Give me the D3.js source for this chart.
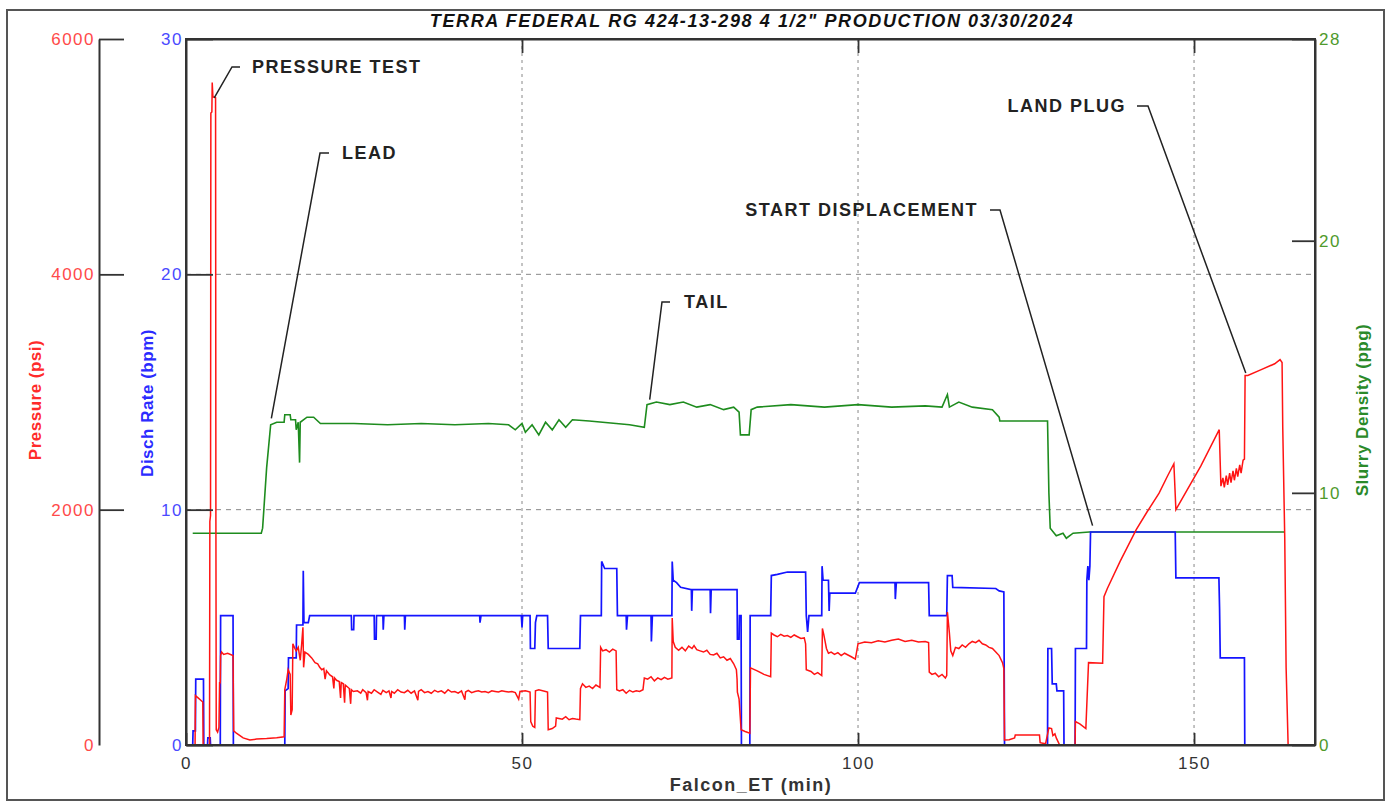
<!DOCTYPE html>
<html>
<head>
<meta charset="utf-8">
<script src="https://cdn.jsdelivr.net/npm/d3@7"></script>
<style>
  body { margin: 0; background: #fff; }
  svg { display: block; font-family: "Liberation Sans", Arial, sans-serif; }
</style>
</head>
<body>
<svg id="chart" width="1390" height="803"></svg>
<script>
// ---------------- data ----------------
var title = 'TERRA FEDERAL RG 424-13-298 4 1/2" PRODUCTION 03/30/2024';

// slurry density, [min, ppg]
var density = [
  [1.0,8.4],[11.2,8.4],[11.4,8.6],[12.0,11.0],[12.6,12.7],[13.5,12.8],[14.6,12.8],[14.7,13.1],[15.5,13.1],
  [15.6,12.9],[16.3,12.9],[16.4,12.5],[16.7,12.8],[16.9,11.2],[17.0,12.8],[18.0,13.0],[19.0,13.0],[20,12.75],
  [25,12.75],[30,12.7],[35,12.75],[40,12.7],[45,12.75],[48,12.7],[49,12.5],[50,12.75],[50.5,12.4],[51.5,12.7],
  [52.5,12.3],[53.5,12.8],[54.5,12.5],[55.5,12.9],[56.5,12.6],[57.5,12.9],[60,12.85],[62,12.8],[64,12.75],
  [66,12.7],[68.2,12.6],[68.6,13.5],[70,13.6],[72,13.5],[74,13.6],[76,13.4],[78,13.5],[80,13.3],[81.5,13.4],
  [82.3,13.2],[82.5,12.3],[83.8,12.3],[84.1,13.3],[85,13.4],[90,13.5],[95,13.4],[100,13.5],[105,13.4],
  [110,13.45],[112.5,13.4],[113.3,13.9],[113.6,13.4],[115,13.6],[117,13.4],[120,13.3],[121,13.0],[121.1,12.85],
  [128.2,12.85],[128.4,10.0],[128.6,8.6],[129.5,8.3],[130.5,8.4],[131,8.2],[132,8.4],[134.4,8.45],[163.4,8.45]
];

// discharge rate, [min, bpm]
var rate = [
  [0,0],[1.0,0],[1.05,0.6],[1.4,0.6],[1.45,2.8],[2.6,2.8],[2.65,0],[3.2,0],[3.25,0.3],[3.6,0.3],[3.65,0],
  [5.1,0],[5.15,5.5],[7.0,5.5],[7.05,0],[14.7,0],[14.75,2.3],[15.2,2.4],[15.25,3.7],[16.4,3.7],[16.45,5.1],
  [17.4,5.1],[17.45,7.4],[17.55,5.2],[18.2,5.2],[18.4,5.5],[24.6,5.5],[24.65,4.9],[24.95,4.9],[25.0,5.5],
  [28.0,5.5],[28.05,4.5],[28.3,4.5],[28.35,5.5],[29.3,5.5],[29.35,4.9],[29.45,5.5],[32.5,5.5],[32.55,4.9],
  [32.65,5.5],[43.7,5.5],[43.75,5.2],[43.9,5.5],[49.9,5.5],[50.0,5.0],[50.1,5.5],[51.2,5.5],[51.25,4.1],
  [51.9,4.1],[52.0,5.2],[52.2,5.5],[53.8,5.5],[53.9,4.1],[58.6,4.1],[58.7,5.5],[61.8,5.5],[61.85,7.8],
  [62.3,7.5],[64.1,7.5],[64.2,5.5],[65.5,5.5],[65.55,4.9],[65.7,5.5],[69.2,5.5],[69.25,4.4],[69.4,5.5],
  [72.3,5.5],[72.35,7.8],[72.5,7.0],[73.0,6.9],[73.6,6.7],[75.2,6.6],[75.25,5.7],[75.35,6.6],[78.0,6.6],
  [78.05,5.6],[78.15,6.6],[82.0,6.6],[82.05,4.5],[82.3,4.5],[82.35,5.5],[82.6,5.5],[82.65,0],[83.9,0],
  [83.95,5.5],[87.0,5.5],[87.1,7.2],[88,7.25],[89.5,7.35],[92.2,7.35],[92.3,5.5],[92.5,4.8],[92.7,5.5],
  [94.6,5.5],[94.65,7.6],[94.8,7.0],[95.6,7.0],[95.7,5.7],[95.8,6.45],[99.6,6.45],[100.2,6.9],[105.5,6.9],
  [105.55,6.2],[105.7,6.9],[110.5,6.9],[110.6,5.5],[113.2,5.5],[113.3,7.2],[114.0,7.2],[114.1,6.7],
  [120.5,6.65],[121.0,6.55],[121.7,6.5],[121.8,0],[128.2,0],[128.25,4.1],[128.8,4.1],[128.9,2.6],[129.5,2.6],
  [129.6,2.3],[130.6,2.3],[130.65,0],[132.3,0],[132.35,4.1],[134.0,4.1],[134.05,7.0],[134.2,7.6],[134.35,7.0],
  [134.5,7.6],[134.6,9.05],[147.2,9.05],[147.3,7.1],[153.7,7.1],[153.8,5.8],[153.9,3.7],[157.5,3.7],[157.55,0]
];

// treating pressure, [min, psi]
var pressure = [
  [1.0,0],[1.35,0],[1.4,420],[1.8,400],[2.2,380],[2.5,365],[2.55,0],[3.5,0],[3.55,1900],[3.65,1950],
  [3.7,5370],[3.85,5380],[3.9,5630],[4.0,5510],[4.4,5500],[4.45,1900],[4.5,130],[4.7,110],[4.9,150],
  [5.0,530],[5.1,530],[5.15,760],[5.3,790],[5.6,770],[6.2,780],[7.0,760],[7.1,120],[7.5,100],[8.5,60],
  [9.5,42],[10.5,50],[12.0,55],[13.5,62],[14.6,70],
  [14.7,470],[15.0,560],[15.2,640],[15.5,600],[15.6,255],[15.8,300],[15.9,860],[16.2,820],[16.4,800],
  [16.7,830],[17.0,720],[17.2,850],[17.4,1000],[17.5,660],[17.7,790],[18.2,770],[18.7,740],[19.2,700],
  [19.6,690],[19.9,660],[20.2,640],[20.5,650],[20.7,560],[20.9,630],[21.4,595],[21.8,580],[22.0,480],
  [22.1,570],[22.4,550],[22.8,540],[23.0,400],[23.1,530],[23.4,520],[23.6,360],[23.7,510],[24.0,495],
  [24.3,480],[24.5,350],[24.6,470],[24.9,455],[25.5,460],[26.0,440],[26.3,470],[26.8,445],[27.0,380],
  [27.1,455],[27.6,440],[28.0,470],[28.5,450],[29.0,430],[29.3,465],[29.8,445],[30.2,460],[30.5,400],
  [30.6,455],[31.0,440],[31.5,470],[32.0,450],[32.5,445],[33.0,465],[33.5,440],[34.0,460],[34.5,380],
  [34.6,455],[35.0,470],[35.5,445],[36.0,455],[36.5,440],[37.0,465],[37.5,450],[38.0,460],[38.5,440],
  [39.0,470],[39.5,450],[40.0,455],[40.5,440],[41.0,460],[41.5,385],[41.6,450],[42.0,465],[42.5,445],
  [43.0,455],[43.5,460],[44.0,450],[44.5,455],[45.0,445],[45.5,460],[46.0,455],[46.5,450],[47.0,460],
  [47.5,455],[48.0,450],[48.5,455],[49.0,445],[49.5,390],[49.7,455],[50.5,460],[51.2,450],[51.3,200],
  [51.6,160],[51.9,150],[52.0,460],[52.5,470],[53.5,455],[53.8,450],[53.9,130],[54.5,140],[55.0,160],
  [55.1,230],[56.0,220],[56.5,240],[57.0,215],[57.5,225],[58.0,220],[58.6,215],[58.7,480],[59.0,520],
  [59.5,490],[60.0,500],[60.5,480],[61.0,510],[61.6,490],[61.7,830],[62.0,800],[62.5,810],[63.0,790],
  [63.5,815],[64.0,800],[64.1,470],[64.5,460],[65.0,470],[65.5,440],[66.0,465],[66.5,450],[67.0,460],
  [67.5,455],[68.0,470],[68.2,570],[68.7,560],[69.2,580],[69.7,545],[70.2,570],[70.7,555],[71.2,575],
  [71.7,560],[72.3,570],[72.35,1080],[72.5,880],[72.8,830],[73.3,805],[73.8,830],[74.3,800],[74.8,840],
  [75.3,820],[75.6,845],[76.0,810],[76.5,800],[77.0,790],[77.5,805],[78.0,770],[78.5,765],[79.0,780],
  [79.5,740],[80.0,750],[80.5,720],[81.0,735],[81.5,690],[81.9,640],[82.0,560],[82.05,450],[82.3,390],
  [82.6,130],[83.2,115],[83.9,100],[84.0,655],[85.0,630],[86.0,600],[87.0,580],[87.1,950],[87.5,935],
  [88.0,920],[88.5,940],[89.0,925],[89.5,930],[90.0,915],[90.5,935],[91.0,920],[91.5,905],[92.0,910],
  [92.2,860],[92.3,640],[93.0,625],[93.5,600],[94.0,615],[94.6,590],[94.7,990],[94.9,940],[95.3,820],
  [95.6,780],[96.0,790],[96.5,770],[97.0,785],[97.5,760],[98.0,780],[98.5,765],[99.0,750],[99.6,730],
  [100.0,860],[101.0,875],[102.0,870],[103.0,885],[104.0,875],[105.0,890],[106.0,900],[107.0,880],
  [108.0,890],[109.0,875],[110.0,880],[110.5,870],[110.6,620],[111.0,600],[111.5,610],[112.0,580],
  [112.5,600],[113.0,570],[113.2,590],[113.3,1130],[113.6,950],[113.8,800],[114.1,760],[114.5,830],
  [115.0,820],[115.5,850],[116.0,830],[116.5,860],[117.0,880],[117.5,870],[118.0,890],[118.5,860],
  [119.0,850],[119.5,830],[120.0,820],[120.5,790],[121.0,760],[121.5,700],[121.7,650],[121.8,42],
  [122.5,45],[123.3,60],[123.4,85],[125.0,85],[127.0,85],[127.1,20],[127.9,10],[128.4,145],[128.8,140],
  [129.0,80],[129.3,95],[129.5,60],[130.0,0],[132.3,0],[132.35,200],[133.0,180],[133.9,140],[134.3,700],
  [136.4,695],[136.6,1260],[137.1,1330],[139.0,1560],[141.4,1830],[143.0,1980],[144.8,2140],[146.0,2280],
  [147.0,2390],[147.3,2000],[149.0,2170],[151.0,2370],[153.75,2680],[154.0,2200],[154.3,2270],[154.5,2190],
  [154.8,2290],[155.0,2210],[155.3,2310],[155.5,2230],[155.8,2330],[156.0,2250],[156.3,2350],[156.5,2280],
  [156.8,2380],[157.0,2310],[157.3,2420],[157.5,2430],[157.6,3140],[158.0,3140],[160.0,3190],[162.0,3240],
  [162.8,3275],[163.1,3250],[163.2,2700],[163.5,1750],[163.7,660],[164.0,0]
];

// event markers: label, time (min), value on its own axis
var notes     = ["PRESSURE TEST", "LEAD", "TAIL", "START DISPLACEMENT", "LAND PLUG"];
var noteTime  = [4.2, 12.7, 69.0, 134.9, 157.7];
var noteValue = [5500, 12.95, 13.7, 8.7, 3161];
var noteAxis  = ["p", "d", "d", "d", "p"];

var timeTicks = [0, 50, 100, 150];
var pressureTicks = [0, 2000, 4000, 6000];
var rateTicks = [0, 10, 20, 30];
var densityTicks = [0, 10, 20, 28];

// ---------------- layout ----------------
var W = 1390, H = 803;
var margin = {top: 39, right: 75, bottom: 58, left: 186};
var pAxisX = 99;

var svg = d3.select("#chart");

var x = d3.scaleLinear().domain([0, 168]).range([margin.left, W - margin.right]);
var yP = d3.scaleLinear().domain([0, 6000]).range([H - margin.bottom, margin.top]);
var yR = d3.scaleLinear().domain([0, 30]).range([H - margin.bottom, margin.top]);
var yD = d3.scaleLinear().domain([0, 28]).range([H - margin.bottom, margin.top]);

// outer frame
svg.append("rect")
  .attr("x", 7).attr("y", 10).attr("width", 1377).attr("height", 790)
  .attr("fill", "none").attr("stroke", "#555").attr("stroke-width", 2);

// title
svg.append("text")
  .attr("x", 752).attr("y", 21).attr("dy", "0.35em")
  .attr("text-anchor", "middle")
  .style("font-size", "18px").style("font-weight", "bold").style("font-style", "italic")
  .style("letter-spacing", "1.6px").attr("fill", "#111")
  .text(title);

// grid
svg.append("g").selectAll("line")
  .data([10, 20]).enter().append("line")
  .attr("x1", x(0)).attr("x2", x(168))
  .attr("y1", function(d){ return yR(d); }).attr("y2", function(d){ return yR(d); })
  .attr("stroke", "#888").attr("stroke-width", 1).attr("stroke-dasharray", "5,5");
svg.append("g").selectAll("line")
  .data([50, 100, 150]).enter().append("line")
  .attr("x1", function(d){ return x(d); }).attr("x2", function(d){ return x(d); })
  .attr("y1", yR(30)).attr("y2", yR(0))
  .attr("stroke", "#888").attr("stroke-width", 1).attr("stroke-dasharray", "3,4");

// ---------------- series ----------------
var lineD = d3.line().x(function(d){ return x(d[0]); }).y(function(d){ return yD(d[1]); });
var lineR = d3.line().x(function(d){ return x(d[0]); }).y(function(d){ return yR(d[1]); });
var lineP = d3.line().x(function(d){ return x(d[0]); }).y(function(d){ return yP(d[1]); });

svg.append("path").datum(density).attr("d", lineD)
  .attr("fill", "none").attr("stroke", "#1e8c1e").attr("stroke-width", 1.6);
svg.append("path").datum(rate).attr("d", lineR)
  .attr("fill", "none").attr("stroke", "#1414ff").attr("stroke-width", 1.7);
svg.append("path").datum(pressure).attr("d", lineP)
  .attr("fill", "none").attr("stroke", "#ff1414").attr("stroke-width", 1.5);

// ---------------- axes ----------------
function styleAxis(g, color) {
  g.select(".domain").attr("stroke", "#333").attr("stroke-width", 2);
  g.selectAll(".tick line").attr("stroke", "#333").attr("stroke-width", 1.8);
  g.selectAll(".tick text")
    .attr("fill", color)
    .style("font-size", "17px").style("letter-spacing", "1.5px")
    .style("font-family", "'Liberation Sans', Arial, sans-serif");
}
function except(arr, skip) {
  return arr.filter(function(v){ return skip.indexOf(v) < 0; });
}

// plot frame
svg.append("rect")
  .attr("x", x(0)).attr("y", yR(30))
  .attr("width", x(168) - x(0)).attr("height", yR(0) - yR(30))
  .attr("fill", "none").attr("stroke", "#333").attr("stroke-width", 2);

// pressure (far left)
var gP = svg.append("g").attr("transform", "translate(" + pAxisX + ",0)");
gP.call(d3.axisLeft(yP).tickValues(except(d3.range(500, 6000, 500), pressureTicks))
  .tickSize(-12).tickSizeOuter(0).tickFormat(""));
gP.call(d3.axisLeft(yP).tickValues(pressureTicks).tickSize(-25).tickSizeOuter(0)
  .tickPadding(4).tickFormat(d3.format("d")));
styleAxis(gP, "#ff4a4a");
gP.selectAll(".tick").filter(function(d){ return d === 0; }).select("line").remove();

// rate (plot left)
var gR = svg.append("g").attr("transform", "translate(" + x(0) + ",0)");
gR.call(d3.axisLeft(yR).tickValues(except(d3.range(2, 30, 2), rateTicks))
  .tickSize(-13).tickSizeOuter(0).tickFormat(""));
gR.call(d3.axisLeft(yR).tickValues(rateTicks).tickSize(-27).tickSizeOuter(0).tickPadding(3));
styleAxis(gR, "#4a4aff");

// density (right)
var gD = svg.append("g").attr("transform", "translate(" + x(168) + ",0)");
gD.call(d3.axisRight(yD).tickValues(except(d3.range(2, 28, 2), densityTicks))
  .tickSize(-11).tickSizeOuter(0).tickFormat(""));
gD.call(d3.axisRight(yD).tickValues(densityTicks).tickSize(-23).tickSizeOuter(0).tickPadding(4));
styleAxis(gD, "#4f9a2c");

// time, bottom and top
var gX = svg.append("g").attr("transform", "translate(0," + yR(0) + ")");
gX.call(d3.axisBottom(x).tickValues(except(d3.range(10, 168, 10), timeTicks))
  .tickSize(-6).tickSizeOuter(0).tickFormat(""));
gX.call(d3.axisBottom(x).tickValues(timeTicks).tickSize(-12).tickSizeOuter(0).tickPadding(12));
styleAxis(gX, "#333");

var gT = svg.append("g").attr("transform", "translate(0," + yR(30) + ")");
gT.call(d3.axisTop(x).tickValues(except(d3.range(10, 168, 10), timeTicks))
  .tickSize(-6).tickSizeOuter(0).tickFormat(""));
gT.call(d3.axisTop(x).tickValues(timeTicks.slice(1)).tickSize(-14).tickSizeOuter(0).tickFormat(""));
styleAxis(gT, "#333");

// axis titles
function axisTitle(tx, ty, rot, txt, color, size, spacing) {
  svg.append("text")
    .attr("transform", "translate(" + tx + "," + ty + ")" + (rot ? " rotate(-90)" : ""))
    .attr("text-anchor", "middle").attr("dy", "0.35em")
    .style("font-size", size + "px").style("font-weight", "bold")
    .style("letter-spacing", spacing + "px")
    .attr("fill", color).text(txt);
}
axisTitle(35, 400, true, "Pressure (psi)", "#ff2b2b", 17, 0.5);
axisTitle(147, 403, true, "Disch Rate (bpm)", "#2b2bff", 17, 0.5);
axisTitle(1362, 410, true, "Slurry Density (ppg)", "#2a8a2a", 17, 0.5);
axisTitle(751, 785, false, "Falcon_ET (min)", "#333", 18, 1.5);

// ---------------- event notes ----------------
// label position and elbow of each leader, in pixels
var noteLabel = [
  {tx: 252, ty: 67,  anchor: "start", e1: 240,  e2: 232},
  {tx: 342, ty: 153, anchor: "start", e1: 329,  e2: 320},
  {tx: 684, ty: 302, anchor: "start", e1: 670,  e2: 662},
  {tx: 978, ty: 210, anchor: "end",   e1: 990,  e2: 1000},
  {tx: 1126, ty: 106, anchor: "end",  e1: 1137, e2: 1148}
];

notes.forEach(function(label, i) {
  var L = noteLabel[i];
  var px = x(noteTime[i]);
  var py = noteAxis[i] === "p" ? yP(noteValue[i]) : yD(noteValue[i]);
  svg.append("path")
    .attr("d", "M" + L.e1 + "," + L.ty + "H" + L.e2 + "L" + px + "," + py)
    .attr("fill", "none").attr("stroke", "#222").attr("stroke-width", 1.5);
  svg.append("text")
    .attr("x", L.tx).attr("y", L.ty).attr("dy", "0.35em")
    .attr("text-anchor", L.anchor)
    .style("font-size", "18px").style("font-weight", "bold").style("letter-spacing", "1.5px")
    .attr("fill", "#222").text(label);
});
</script>
</body>
</html>
